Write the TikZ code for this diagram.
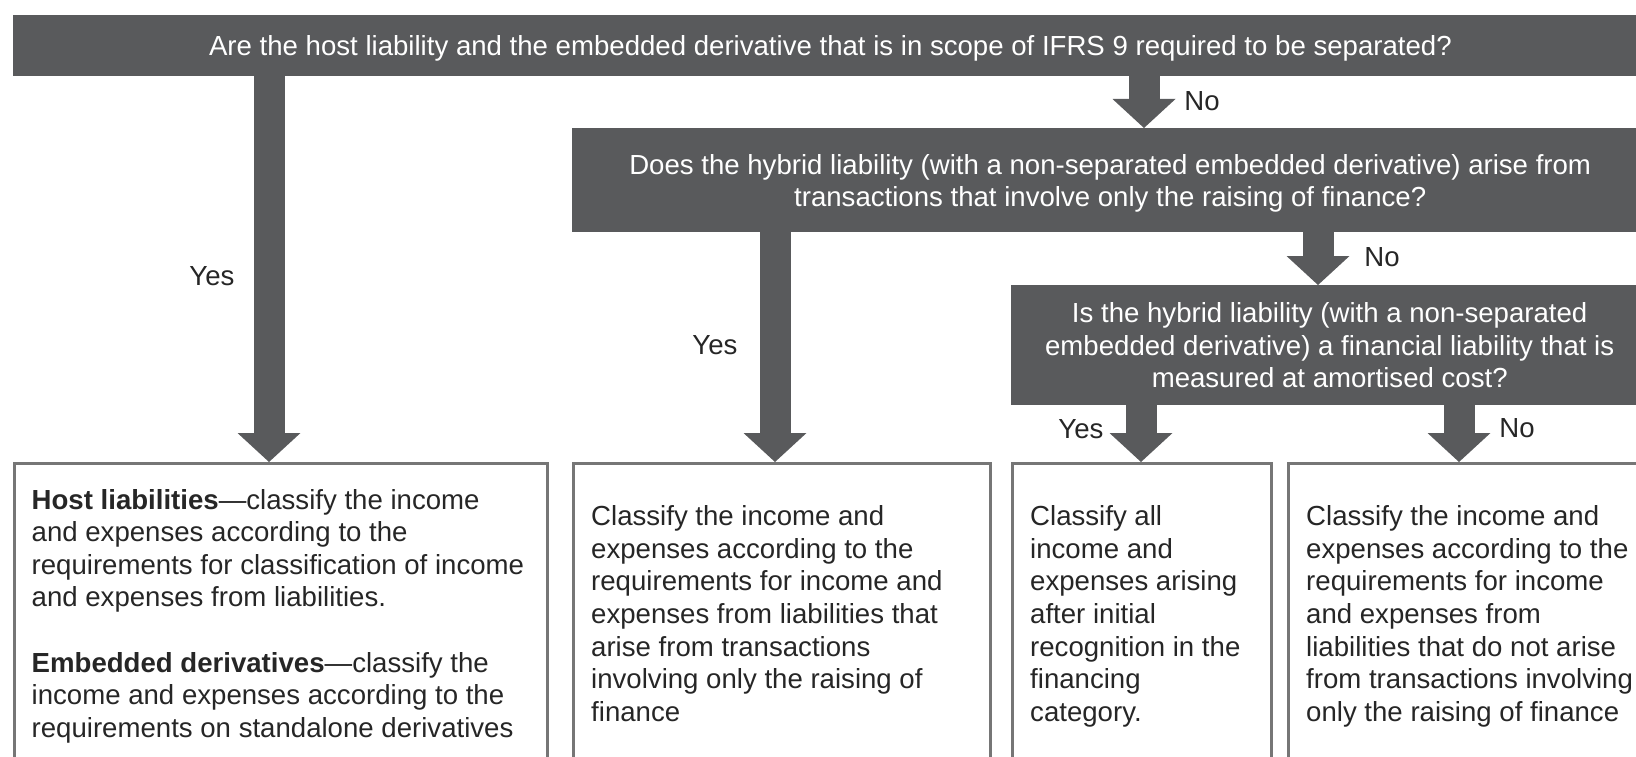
\documentclass[tikz,border=0pt]{standalone}
\usepackage{fontspec}
\setmainfont{Liberation Sans}
\usetikzlibrary{arrows.meta}

\definecolor{bargray}{RGB}{89,90,92}
\definecolor{boxgray}{RGB}{118,118,118}
\definecolor{inkgray}{RGB}{38,38,38}
\newcommand{\flowfont}{\fontsize{27.6}{32.6}\selectfont}

\tikzstyle{question} = [anchor=north west,fill=bargray,text=white,inner sep=0pt,align=center,font=\flowfont]
\tikzstyle{outcome} = [anchor=north west,draw=boxgray,line width=3.4pt,inner xsep=17.5pt,inner ysep=41.9pt,text=inkgray,font=\flowfont]
\tikzstyle{flow} = [draw=bargray,line width=31pt,-{Triangle[width=63pt,length=29pt,line width=0pt]}]
\tikzstyle{answer} = [text=inkgray,font=\flowfont]

\begin{document}
\begin{tikzpicture}[x=1pt,y=-1pt]
		\useasboundingbox (0,0) rectangle (1636,757);
		\clip (0,0) rectangle (1636,757);
		% questions
		\node[question,minimum width=1635.5pt,minimum height=61.4pt] (q1) at (12.5,14.6) {\rule{0pt}{26pt}Are the host liability and the embedded derivative that is in scope of IFRS 9 required to be separated?};
		\node[question,minimum width=1076pt,minimum height=104pt] (q2) at (572,128) {\rule{0pt}{26pt}Does the hybrid liability (with a non-separated embedded derivative) arise from\\ transactions that involve only the raising of finance?};
		\node[question,minimum width=637pt,minimum height=120pt] (q3) at (1011,285) {Is the hybrid liability (with a non-separated\\ embedded derivative) a financial liability that is\\ measured at amortised cost?};
		% outcomes
		\node[outcome,inner ysep=25.4pt] (b1) at (12.5,462) {\parbox[c][300pt][t]{498.5pt}{\textbf{Host liabilities}—classify the income\\ and expenses according to the\\ requirements for classification of income\\ and expenses from liabilities.\\[32.6pt] \textbf{Embedded derivatives}—classify the\\ income and expenses according to the\\ requirements on standalone derivatives}};
		\node[outcome] (b2) at (572,462) {\parbox[c][300pt][t]{382pt}{Classify the income and\\ expenses according to the\\ requirements for income and\\ expenses from liabilities that\\ arise from transactions\\ involving only the raising of\\ finance}};
		\node[outcome] (b3) at (1011,462) {\parbox[c][300pt][t]{224pt}{Classify all\\ income and\\ expenses arising\\ after initial\\ recognition in the\\ financing\\ category.}};
		\node[outcome] (b4) at (1287,462) {\parbox[c][300pt][t]{340pt}{Classify the income and\\ expenses according to the\\ requirements for income\\ and expenses from\\ liabilities that do not arise\\ from transactions involving\\ only the raising of finance}};
		% arrows
		\coordinate (xa) at (269,0);
		\coordinate (xb) at (1144,0);
		\coordinate (xc) at (775,0);
		\coordinate (xd) at (1318,0);
		\coordinate (xe) at (1141,0);
		\coordinate (xf) at (1459,0);
		\draw[flow] (xa |- q1.south) -- (xa |- b1.north);
		\draw[flow] (xb |- q1.south) -- (xb |- q2.north);
		\draw[flow] (xc |- q2.south) -- (xc |- b2.north);
		\draw[flow] (xd |- q2.south) -- (xd |- q3.north);
		\draw[flow] (xe |- q3.south) -- (xe |- b3.north);
		\draw[flow] (xf |- q3.south) -- (xf |- b4.north);
		% answers
		\node[answer] (yes1) at (212,276) {Yes};
		\node[answer] (no1) at (1202,101) {No};
		\node[answer] (yes2) at (715,345) {Yes};
		\node[answer] (no2) at (1382,257) {No};
		\node[answer] (yes3) at (1081,429) {Yes};
		\node[answer] (no3) at (1517,428) {No};
\end{tikzpicture}
\end{document}
